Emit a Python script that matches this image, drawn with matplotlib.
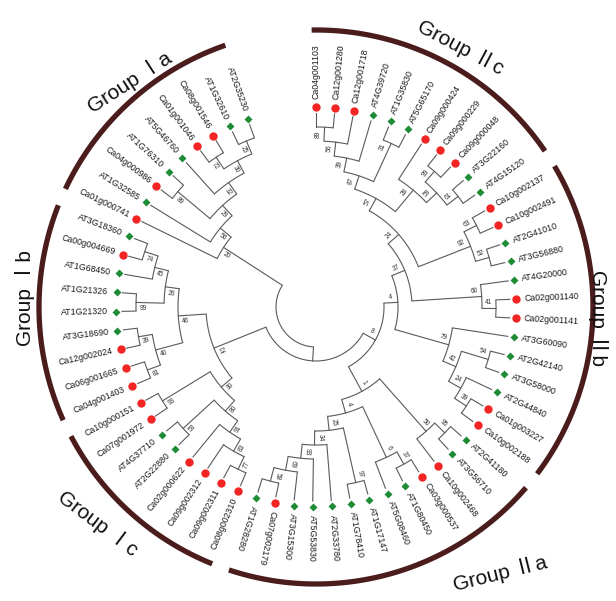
import numpy as np
import matplotlib.pyplot as plt

# clades in newick form, bootstrap value after each closing bracket
clade_IIc = ("(((((Ca04g001103,Ca12g001280)89,Ca12g001718)56,AT4G39720)39,(AT1G35830,AT5G65170)31)87,"
             "(Ca09g000424,((Ca09g000229,Ca09g000048)99,(AT3G22160,AT4G15120)61)59)28)57")
clade_IIb_1 = "((Ca10g002137,Ca10g002491)63,(AT2G41010,AT3G56880)52)92"
clade_IIb_2 = "(AT4G20000,(Ca02g001140,Ca02g001141)41)60"
clade_IIb_3 = "(AT3G60090,((AT2G42140,AT3G58000)54,(AT2G44840,(Ca01g003227,Ca10g002188)39)24)42)79"
clade_IIa = ("(((AT2G41180,AT3G56710)95,Ca10g002468)50,(((Ca03g000537,AT1G80450)37,AT5G08460)6,"
             "((AT1G17147,AT1G78410)97,(AT2G33780,(AT5G53830,(AT3G15300,(Ca07g002179,AT1G28280)58)69)93)34)25)4)1")
clade_Ic = ("(((((Ca08g002310,Ca09g002311)77,Ca09g002312)83,Ca02g000622)91,(AT2G22880,AT4G37710)53)80,"
            "(Ca07g001972,Ca10g000151)93)30")
clade_Ib = ("(((Ca04g001403,Ca06g001665)81,(Ca12g002024,AT3G18690)39)40,"
            "((AT1G21320,AT1G21326)99,(AT1G68450,(Ca00g004669,AT3G18360)74)45)26)46")
clade_Ia = ("(Ca01g000741,(AT1G32585,((Ca04g000986,AT1G76310)89,(AT5G46760,((Ca01g001046,Ca08g001546)72,"
            "(AT1G32610,AT2G35230)25)30)32)29)56)20")

tree_str = ("((((((" + clade_IIc + "," + clade_IIb_1 + ")24," + clade_IIb_2 + ")37," + clade_IIb_3 + ")4,"
            + clade_IIa + ")8,(" + clade_Ic + "," + clade_Ib + ")12)," + clade_Ia + ")")

group_names = ["Group \u2161c", "Group \u2161b", "Group \u2161a", "Group \u2160c", "Group \u2160b", "Group \u2160a"]
group_first = ["Ca04g001103", "Ca10g002137", "AT2G41180", "Ca08g002310", "Ca04g001403", "Ca01g000741"]
group_last = ["AT4G15120", "Ca10g002188", "AT1G28280", "Ca10g000151", "AT3G18360", "AT2G35230"]


def parse(s, pos=0):
    # returns (node, new_pos); node = dict(name, label, children)
    if s[pos] == "(":
        kids = []
        pos += 1
        while True:
            child, pos = parse(s, pos)
            kids.append(child)
            if s[pos] == ",":
                pos += 1
            else:
                pos += 1  # ")"
                break
        lab = ""
        while pos < len(s) and s[pos] not in ",()":
            lab += s[pos]
            pos += 1
        return {"name": None, "label": lab, "children": kids}, pos
    name = ""
    while pos < len(s) and s[pos] not in ",()":
        name += s[pos]
        pos += 1
    return {"name": name, "label": "", "children": []}, pos


root, _ = parse(tree_str)

cx, cy = 316, 307
r_leaf = 194
r_root = 40
start_ang = 90.0
span = 340.0

leaves = []


def collect(n):
    if not n["children"]:
        leaves.append(n)
    for c in n["children"]:
        collect(c)


collect(root)
dang = span / (len(leaves) - 1)
for i, lf in enumerate(leaves):
    lf["ang"] = start_ang - i * dang
    lf["h"] = 0


def layout(n):
    if not n["children"]:
        return
    for c in n["children"]:
        layout(c)
    n["h"] = 1 + max(c["h"] for c in n["children"])
    n["ang"] = (n["children"][0]["ang"] + n["children"][-1]["ang"]) / 2


layout(root)
step = (r_leaf - r_root) / root["h"]


def rad(n):
    return r_leaf - n["h"] * step


def xy(r, a):
    t = np.radians(a)
    return cx + r * np.cos(t), cy - r * np.sin(t)


def flipped(a):
    a = a % 360
    return 90.5 < a < 250


fig = plt.figure(figsize=(6.16, 6.01), dpi=100)
ax = fig.add_axes([0, 0, 1, 1])
ax.set_xlim(0, 616)
ax.set_ylim(601, 0)
ax.axis("off")

line_col = "#5a5a5a"


def draw(n):
    if not n["children"]:
        return
    r = rad(n)
    a0, a1 = n["children"][0]["ang"], n["children"][-1]["ang"]
    t = np.linspace(a0, a1, 60)
    px, py = xy(r, t)
    ax.plot(px, py, color=line_col, lw=0.8, solid_capstyle="butt")
    for c in n["children"]:
        x0, y0 = xy(r, c["ang"])
        x1, y1 = xy(rad(c), c["ang"])
        ax.plot([x0, x1], [y0, y1], color=line_col, lw=0.8)
        draw(c)
    if n["label"]:
        off = np.degrees(6.0 / r)
        a = n["ang"] + off
        lx, ly = xy(r - 7, a)
        rot = a - 180 if flipped(a) else a
        ax.text(lx, ly, n["label"], fontsize=4.8, color="#333333", rotation=rot,
                rotation_mode="anchor", ha="center", va="center", family="Liberation Sans")


draw(root)

# leaf markers and names
for lf in leaves:
    a = lf["ang"]
    mx, my = xy(200, a)
    if lf["name"].startswith("Ca"):
        ax.plot(mx, my, "o", ms=6.0, color="#f22424", mec="none")
    else:
        ax.plot(mx, my, "D", ms=4.2, color="#1f8b35", mec="none")
    tx, ty = xy(208, a)
    if flipped(a):
        ax.text(tx, ty, lf["name"], fontsize=6.3, rotation=a - 180, rotation_mode="anchor",
                ha="right", va="center", color="#1a1a1a", family="Liberation Sans")
    else:
        ax.text(tx, ty, lf["name"], fontsize=6.3, rotation=a, rotation_mode="anchor",
                ha="left", va="center", color="#1a1a1a", family="Liberation Sans")

# group brackets and names
leaf_ang = {lf["name"]: lf["ang"] for lf in leaves}
arc_col = "#4a1c1c"
label_xy = [(461, 47, -28), (598, 318, -90), (500, 574, 14), (98, 524, -37), (25, 298, 90), (130, 82, 33)]
for k, g in enumerate(group_names):
    a0 = leaf_ang[group_first[k]] + 0.9
    a1 = leaf_ang[group_last[k]] - 0.9
    t = np.linspace(a0, a1, 120)
    px, py = xy(277, t)
    ax.plot(px, py, color=arc_col, lw=3.8, solid_capstyle="butt")
    lx, ly, rot = label_xy[k]
    ax.text(lx, ly, g, fontsize=15, rotation=rot, rotation_mode="anchor", ha="center", va="center",
            color="#111111", family=["Liberation Sans", "Noto Sans CJK SC"])

fig.savefig("out.png", dpi=100)
